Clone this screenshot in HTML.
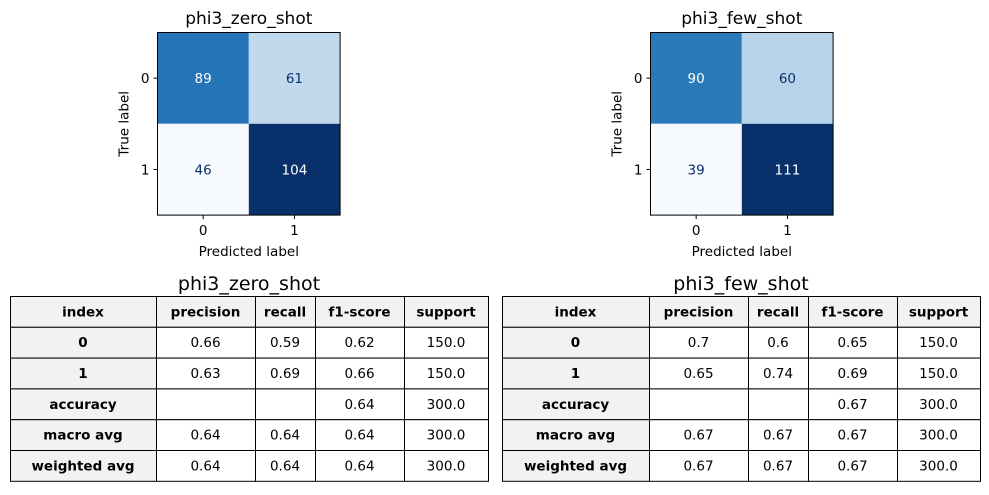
<!DOCTYPE html>
<html><head><meta charset="utf-8"><style>
body{margin:0;background:#fff;width:989px;height:490px;overflow:hidden}
svg text{font-family:"DejaVu Sans","Liberation Sans",sans-serif}
</style></head><body>
<svg id="s" width="989" height="490" xmlns="http://www.w3.org/2000/svg"></svg>
<script>
const cmTitles=["phi3_zero_shot","phi3_few_shot"];
const cmValues=[[[89,61],[46,104]],[[90,60],[39,111]]];
const cmColors=[[["#2474b7","#c1d9ed"],["#f7fbff","#08306b"]],[["#2a7ab9","#b7d4ea"],["#f7fbff","#08306b"]]];
const cmTicks=["0","1"];
const tblHeaders=["index","precision","recall","f1-score","support"];
const tblRows=["0","1","accuracy","macro avg","weighted avg"];
const tblValues=[
 [["0.66","0.59","0.62","150.0"],["0.63","0.69","0.66","150.0"],["","","0.64","300.0"],["0.64","0.64","0.64","300.0"],["0.64","0.64","0.64","300.0"]],
 [["0.7","0.6","0.65","150.0"],["0.65","0.74","0.69","150.0"],["","","0.67","300.0"],["0.67","0.67","0.67","300.0"],["0.67","0.67","0.67","300.0"]]];
const S=document.getElementById('s');const NS="http://www.w3.org/2000/svg";
function el(t,a,txt){const e=document.createElementNS(NS,t);for(const k in a)e.setAttribute(k,a[k]);if(txt!==undefined)e.textContent=txt;S.appendChild(e);return e;}
const cmX=[157.5,650.5],cmY=32.5,cs=91.3;
const vmax=[104,111];
cmTitles.forEach((t,m)=>{
 const x0=cmX[m];
 let e=el('text',{x:x0+cs,y:24,'text-anchor':'middle','font-size':17},t);
 
 
 for(let r=0;r<2;r++)for(let c=0;c<2;c++){
  const v=cmValues[m][r][c];
  e=el('rect',{x:x0+c*cs,y:cmY+r*cs,width:cs,height:cs,fill:cmColors[m][r][c]});
  
  
  e=el('text',{x:x0+c*cs+cs/2,y:cmY+r*cs+cs/2+5,'text-anchor':'middle','font-size':13.5,fill:(v>vmax[m]*0.75||(r==0&&c==0))?'#fff':'#08306b'},String(v));
  
  
 }
 e=el('rect',{x:x0,y:cmY,width:2*cs,height:2*cs,fill:'none',stroke:'#000','stroke-width':1});
 
 
 cmTicks.forEach((tk,i)=>{
  const cx=x0+i*cs+cs/2, cy=cmY+i*cs+cs/2;
  el('line',{x1:cx,y1:cmY+2*cs,x2:cx,y2:cmY+2*cs+4,stroke:'#000'});
  e=el('text',{x:cx,y:cmY+2*cs+20,'text-anchor':'middle','font-size':13.5},tk);
  
  
  el('line',{x1:x0-4,y1:cy,x2:x0,y2:cy,stroke:'#000'});
  e=el('text',{x:x0-8,y:cy+5,'text-anchor':'end','font-size':13.5},tk);
  
  
 });
 e=el('text',{x:x0+cs,y:256,'text-anchor':'middle','font-size':13.5},'Predicted label');
 
 
 e=el('text',{x:0,y:0,'text-anchor':'middle','font-size':13.5,transform:`translate(${x0-29},${cmY+cs}) rotate(-90)`},'True label');
 
 
});
const tX=[[10,156,255,315,404,488],[502,649,748,808,897,980]];
const tY0=296,rh=30.8;
cmTitles.forEach((t,m)=>{
 const xs=tX[m];
 let e=el('text',{x:(xs[0]+xs[5])/2,y:290,'text-anchor':'middle','font-size':19},t);
 
 
 for(let r=0;r<6;r++)for(let c=0;c<5;c++){
  const hdr=r==0||c==0;
  e=el('rect',{x:xs[c]+0.5,y:tY0+r*rh+0.5,width:xs[c+1]-xs[c],height:rh,fill:hdr?'#f2f2f2':'#fff',stroke:'#000','stroke-width':1});
  
  
  const txt=r==0?tblHeaders[c]:(c==0?tblRows[r-1]:tblValues[m][r-1][c-1]);
  e=el('text',{x:(xs[c]+xs[c+1])/2,y:tY0+r*rh+rh/2+5,'text-anchor':'middle','font-size':13.5,'font-weight':hdr?'bold':'normal'},txt);
  
  
 }
});
</script>
</body></html>
